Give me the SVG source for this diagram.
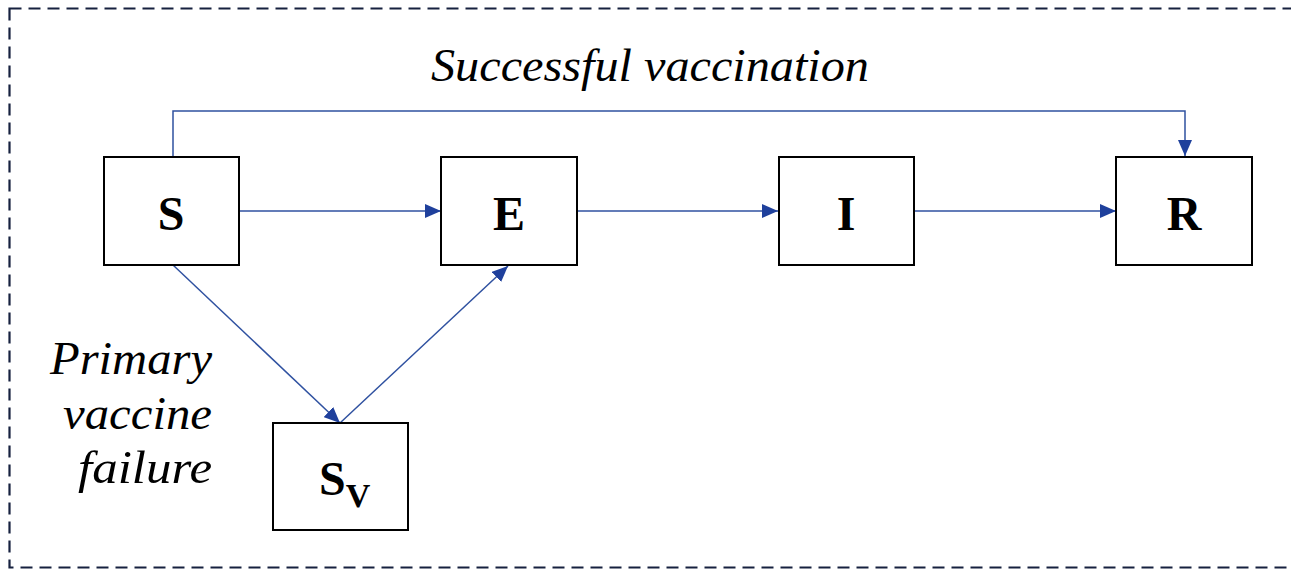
<svg xmlns="http://www.w3.org/2000/svg" width="1291" height="570" viewBox="0 0 1291 570">
<style>
.box{fill:#fff;stroke:#000;stroke-width:2}
.lbl{font-family:"Liberation Serif",serif;font-weight:bold;font-size:48px;fill:#000;text-anchor:middle}
.it{font-family:"Liberation Serif",serif;font-style:italic;font-size:46px;fill:#000}
.conn{fill:none;stroke:#2F51A0;stroke-width:1.5}
</style>
<defs>
<marker id="ah" viewBox="0 0 16 14" refX="16" refY="7" markerWidth="16" markerHeight="14" markerUnits="userSpaceOnUse" orient="auto">
<path d="M0,0 L16,7 L0,14 Z" fill="#1F409C"/>
</marker>
</defs>
<rect x="9.5" y="8.5" width="1290" height="559" fill="none" stroke="#16213F" stroke-width="2.2" stroke-dasharray="12 7"/>
<g id="connectors">
<path class="conn" d="M173,157 V111 H1185 V156" marker-end="url(#ah)"/>
<path class="conn" d="M240,211 H441" marker-end="url(#ah)"/>
<path class="conn" d="M578,211 H778" marker-end="url(#ah)"/>
<path class="conn" d="M915,211 H1116" marker-end="url(#ah)"/>
<path class="conn" d="M173,265 L340,423" marker-end="url(#ah)"/>
<path class="conn" d="M340,423 L508,266" marker-end="url(#ah)"/>
</g>
<g id="node-S"><rect class="box" x="104" y="157" width="135" height="108"/><text class="lbl" x="171" y="230">S</text></g>
<g id="node-E"><rect class="box" x="441" y="157" width="136" height="108"/><text class="lbl" x="509" y="230">E</text></g>
<g id="node-I"><rect class="box" x="779" y="157" width="135" height="108"/><text class="lbl" x="846" y="230">I</text></g>
<g id="node-R"><rect class="box" x="1116" y="157" width="136" height="108"/><text class="lbl" x="1184" y="230">R</text></g>
<g id="node-Sv"><rect class="box" x="273" y="423" width="135" height="107"/><text class="lbl" x="319" y="495" style="text-anchor:start">S<tspan font-size="34" dy="12">V</tspan></text></g>
<text class="it" x="431" y="81" textLength="438" lengthAdjust="spacingAndGlyphs">Successful vaccination</text>
<g id="label-primary">
<text class="it" x="50" y="374" textLength="162" lengthAdjust="spacingAndGlyphs">Primary</text>
<text class="it" x="63" y="429" textLength="149" lengthAdjust="spacingAndGlyphs">vaccine</text>
<text class="it" x="78" y="483" textLength="134" lengthAdjust="spacingAndGlyphs">failure</text>
</g>
</svg>
